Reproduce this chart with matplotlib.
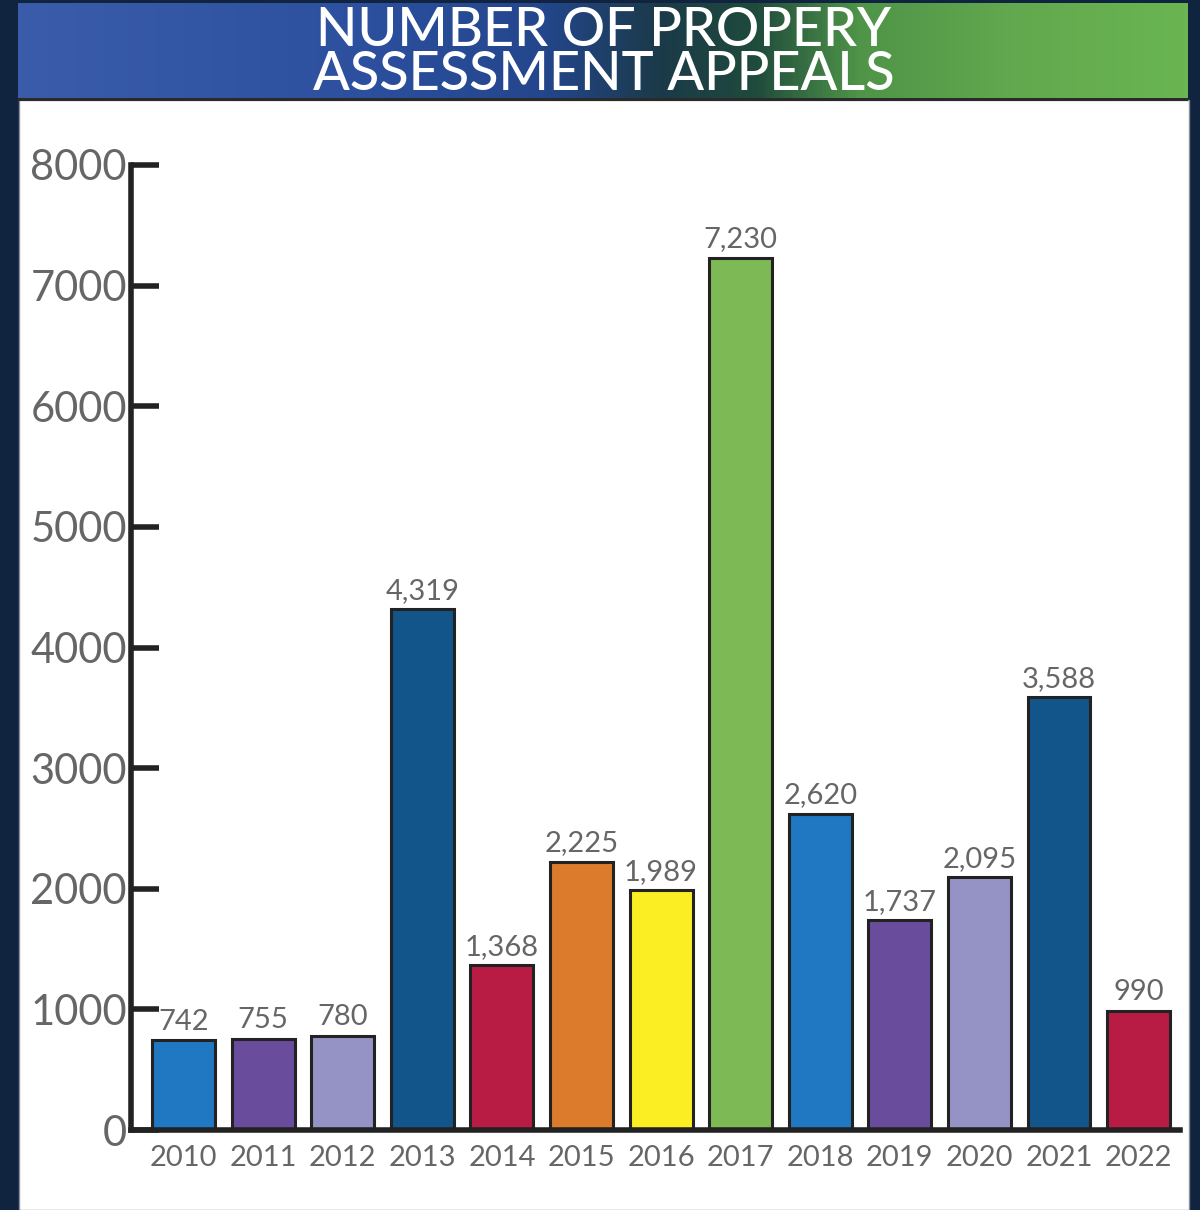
import numpy as np
import matplotlib
matplotlib.use('Agg')
import matplotlib.pyplot as plt
from matplotlib.colors import LinearSegmentedColormap
from matplotlib.patches import Rectangle

years = ['2010', '2011', '2012', '2013', '2014', '2015', '2016',
         '2017', '2018', '2019', '2020', '2021', '2022']
appeals = [742, 755, 780, 4319, 1368, 2225, 1989, 7230, 2620, 1737, 2095, 3588, 990]
barColors = ['#1f78c1', '#6a4c9c', '#9593c6', '#12558a', '#b81c45', '#dc7b2b', '#fbee23',
             '#7db954', '#1f78c1', '#6a4c9c', '#9593c6', '#12558a', '#b81c45']
yTicks = [0, 1000, 2000, 3000, 4000, 5000, 6000, 7000, 8000]
titleLines = ['NUMBER OF PROPERY', 'ASSESSMENT APPEALS']

plt.rcParams['font.family'] = ['Lato', 'DejaVu Sans']

W, H = 1200, 1210
fig = plt.figure(figsize=(W / 100, H / 100), dpi=100, facecolor='#10233f')

# white panel (behind the axes)
fig.patches.append(Rectangle((19 / W, 0), (1189 - 19) / W, 1 - 100 / H,
                             transform=fig.transFigure, facecolor='white',
                             edgecolor='#8a8f99', linewidth=1.0, zorder=-5))

# header band with blue -> dark -> green gradient
hdr = fig.add_axes([18 / W, 1 - 100 / H, (1188 - 18) / W, 97 / H])
cmap = LinearSegmentedColormap.from_list('hdr', [
    (0.0, '#3a5cab'), (0.3, '#2c4f9e'), (0.45, '#23468c'),
    (0.55, '#1b3a48'), (0.63, '#1f4a3c'), (0.72, '#4f9448'),
    (0.85, '#62a84e'), (1.0, '#6ab552')])
hdr.imshow(np.linspace(0, 1, 400).reshape(1, -1), aspect='auto', cmap=cmap,
           extent=[0, 1, 0, 1])
hdr.set_axis_off()
fig.patches.append(Rectangle((18 / W, 1 - 101 / H), (1188 - 18) / W, 3 / H,
                             transform=fig.transFigure, facecolor='#2a2a2a',
                             edgecolor='none', zorder=3))
fig.text(604 / W, 1 - 30 / H, titleLines[0], color='white', fontsize=39,
         ha='center', va='center', fontweight='medium')
fig.text(604 / W, 1 - 75 / H, titleLines[1], color='white', fontsize=39,
         ha='center', va='center', fontweight='medium')

# main chart
ax = fig.add_axes([131 / W, 1 - 1130 / H, (1180 - 131) / W, (1130 - 165) / H])
x = np.arange(len(years))
bars = ax.bar(x, appeals, width=0.79, color=barColors, edgecolor='#222222',
              linewidth=2.2, zorder=2)
for b, v in zip(bars, appeals):
    ax.text(b.get_x() + b.get_width() / 2, v + 45, f'{v:,}', ha='center', va='bottom',
            fontsize=21, color='#666666')

ax.set_xlim(-0.66, 12.52)
ax.set_ylim(0, 8000)
ax.set_yticks(yTicks)
ax.set_yticklabels([str(t) for t in yTicks])
ax.set_xticks(x)
ax.set_xticklabels(years)
for side in ['top', 'right']:
    ax.spines[side].set_visible(False)
for side in ['left', 'bottom']:
    ax.spines[side].set_linewidth(4)
    ax.spines[side].set_color('#222222')
ax.tick_params(axis='y', direction='in', length=20, width=4, color='#222222',
               labelsize=30, labelcolor='#666666', pad=3)
ax.tick_params(axis='x', length=0, labelsize=21, labelcolor='#666666', pad=11)
ax.set_facecolor('none')

fig.savefig('out.png', dpi=100, facecolor=fig.get_facecolor())
